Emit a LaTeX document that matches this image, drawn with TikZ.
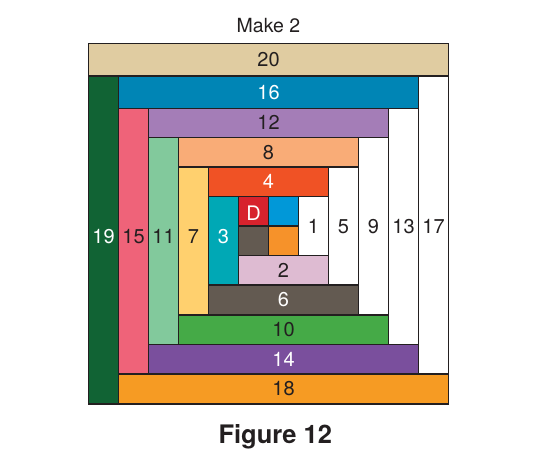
\documentclass[tikz,border=0pt]{standalone}
\usepackage{fontspec}
\setmainfont{TeX Gyre Heros}
\usepackage{xcolor}
\usepackage{tikz}

\definecolor{ink}{HTML}{231F20}
\definecolor{tan}{HTML}{E0CCA1}
\definecolor{deepblue}{HTML}{0085B5}
\definecolor{lavender}{HTML}{A47DB7}
\definecolor{peach}{HTML}{F9AC77}
\definecolor{redorange}{HTML}{F05225}
\definecolor{cherry}{HTML}{D7222D}
\definecolor{skyblue}{HTML}{0198D8}
\definecolor{taupe}{HTML}{635A51}
\definecolor{tangerine}{HTML}{F6922A}
\definecolor{lilac}{HTML}{DEBBD2}
\definecolor{teal}{HTML}{00A8B5}
\definecolor{butter}{HTML}{FFD06E}
\definecolor{grass}{HTML}{45AA47}
\definecolor{mint}{HTML}{82C99C}
\definecolor{grape}{HTML}{7A4F9D}
\definecolor{rose}{HTML}{EF6379}
\definecolor{marigold}{HTML}{F69B23}
\definecolor{forest}{HTML}{116334}

\begin{document}
\begin{tikzpicture}[
    x=1pt, y=-1pt,
    font=\fontsize{20}{24}\selectfont,
    patch/.style={draw=ink, line width=1.3pt},
    num/.style={inner sep=0pt, anchor=base},
    title/.style={font=\fontsize{19.5}{23}\selectfont, text=ink, anchor=base},
    caption/.style={font=\fontsize{25.5}{30}\selectfont\bfseries, text=ink, anchor=base},
]
\useasboundingbox (0,0) rectangle (542,472);

\node[title] (make) at (268.5,32) {Make 2};

% Centre four-patch
\foreach \nm/\xa/\ya/\col in {d/238.5/196.5/cherry, b/268.5/196.5/skyblue,
                              g/238.5/226/taupe, o/268.5/226/tangerine} {
    \filldraw[patch, fill=\col] (\xa,\ya) rectangle ++(30,29.5);
}
\node[num, text=white] (d) at (253.5,220) {D};

% Logs running across -- label centred in the strip
\foreach \n/\xa/\ya/\xb/\yb/\col/\tc in {
    2/238.5/255.5/328.5/285/lilac/ink,
    4/208.5/167/328.5/196.5/redorange/white,
    6/208.5/285/358.5/315/taupe/white,
    8/178.5/137.5/358.5/167/peach/ink,
    10/178.5/315/388.5/344.5/grass/ink,
    12/148.5/108.3/388.5/137.5/lavender/ink,
    14/148.5/344.5/418.5/374/grape/white,
    16/118.5/76/418.5/108.3/deepblue/white,
    18/118.5/374/448.5/404/marigold/ink,
    20/88.5/43.5/448.5/76/tan/ink} {
    \filldraw[patch, fill=\col] (\xa,\ya) rectangle (\xb,\yb);
    \node[inner sep=0pt, text=\tc] (s\n) at ({(\xa+\xb)/2},{(\ya+\yb)/2}) {\n};
}

% Logs running down -- labels on one line each side
\foreach \n/\xa/\ya/\xb/\yb/\col/\tc/\base in {
    1/298.5/196.5/328.5/255.5/white/ink/233,
    3/208.5/196.5/238.5/285/teal/white/243,
    5/328.5/167/358.5/285/white/ink/233,
    7/178.5/167/208.5/315/butter/ink/243,
    9/358.5/137.5/388.5/315/white/ink/233,
    11/148.5/137.5/178.5/344.5/mint/ink/243,
    13/388.5/108.3/418.5/344.5/white/ink/233,
    15/118.5/108.3/148.5/374/rose/ink/243,
    17/418.5/76/448.5/374/white/ink/233,
    19/88.5/76/118.5/404/forest/white/243} {
    \filldraw[patch, fill=\col] (\xa,\ya) rectangle (\xb,\yb);
    \node[num, text=\tc] (s\n) at ({(\xa+\xb)/2},\base) {\n};
}

\node[caption] (fig) at (275.3,443) {Figure 12};

\end{tikzpicture}
\end{document}
